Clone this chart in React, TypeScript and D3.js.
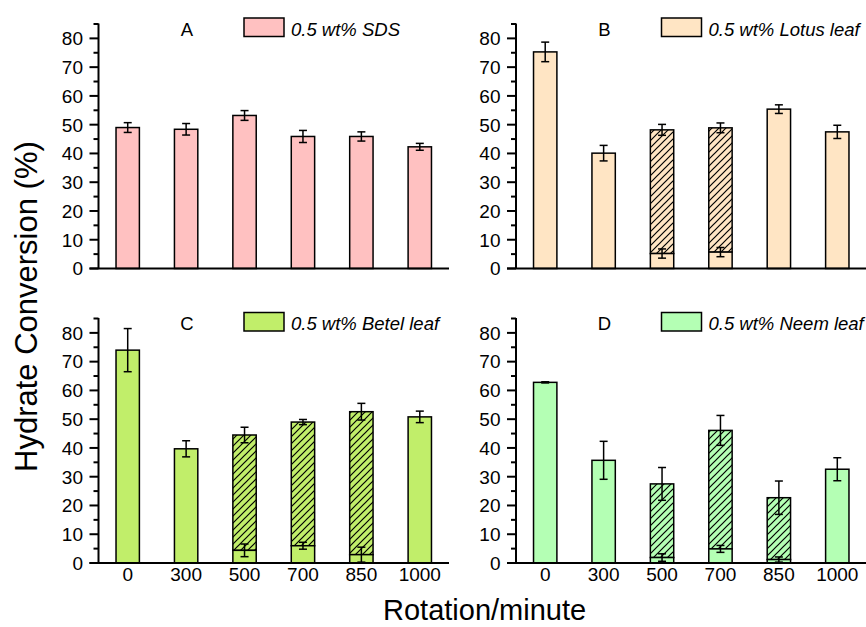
import React from 'react';
import * as d3 from 'd3';

// rotation speeds (x categories)
const rpm = ['0', '300', '500', '700', '850', '1000'];

// panel A - SDS
const sdsTotal = [49.0, 48.4, 53.2, 45.9, 45.9, 42.3];
const sdsErr = [1.7, 2.0, 1.7, 2.1, 1.6, 1.2];
const sdsLower = [null, null, null, null, null, null];
const sdsLowerErr = [null, null, null, null, null, null];

// panel B - Lotus leaf
const lotusTotal = [75.3, 40.1, 48.2, 48.9, 55.4, 47.5];
const lotusErr = [3.4, 2.7, 1.9, 1.7, 1.5, 2.3];
const lotusLower = [null, null, 5.2, 5.7, null, null];
const lotusLowerErr = [null, null, 1.6, 1.6, null, null];

// panel C - Betel leaf
const betelTotal = [74.0, 39.7, 44.5, 49.0, 52.6, 50.8];
const betelErr = [7.5, 2.8, 2.7, 0.9, 2.9, 2.0];
const betelLower = [null, null, 4.4, 6.0, 2.9, null];
const betelLowerErr = [null, null, 2.2, 1.2, 2.6, null];

// panel D - Neem leaf
const neemTotal = [62.8, 35.7, 27.5, 46.1, 22.7, 32.6];
const neemErr = [0.2, 6.6, 5.7, 5.2, 5.8, 4.0];
const neemLower = [null, null, 1.9, 4.9, 1.2, null];
const neemLowerErr = [null, null, 1.3, 1.2, 0.9, null];

const yTicks = [0, 10, 20, 30, 40, 50, 60, 70, 80];
const yMinor = [5, 15, 25, 35, 45, 55, 65, 75, 85];

const FONT = "'Liberation Sans', Arial, Helvetica, sans-serif";

type PanelProps = {
  id: string;
  letter: string;
  legend: string;
  color: string;
  total: number[];
  err: number[];
  lower: (number | null)[];
  lowerErr: (number | null)[];
  x0: number;
  top: number;
  bottom: number;
  showX: boolean;
};

function Panel(p: PanelProps) {
  const width = 350.5;
  const x = d3.scaleBand().domain(rpm).range([p.x0, p.x0 + width]).paddingInner(0.6).paddingOuter(0.3);
  const y = d3.scaleLinear().domain([0, 85]).range([p.bottom, p.top]);
  const bw = x.bandwidth();
  const cap = 4;

  const errBar = (cx: number, v: number, e: number, key: string) => (
    <g key={key} stroke="#000" strokeWidth={1.5}>
      <line x1={cx} x2={cx} y1={y(v + e)} y2={y(v - e)} />
      <line x1={cx - cap} x2={cx + cap} y1={y(v + e)} y2={y(v + e)} />
      <line x1={cx - cap} x2={cx + cap} y1={y(v - e)} y2={y(v - e)} />
    </g>
  );

  return (
    <g>
      <defs>
        <pattern id={'hatch' + p.id} patternUnits="userSpaceOnUse" width={7} height={7}>
          <rect width={7} height={7} fill={p.color} />
          <path d="M-1,1 l2,-2 M0,7 l7,-7 M6,8 l2,-2" stroke="#000" strokeWidth={1.2} />
        </pattern>
      </defs>
      {rpm.map((r, i) => {
        const bx = x(r) as number;
        const lo = p.lower[i];
        return (
          <g key={r}>
            {lo == null ? (
              <rect x={bx} y={y(p.total[i])} width={bw} height={y(0) - y(p.total[i])}
                fill={p.color} stroke="#000" strokeWidth={1.5} />
            ) : (
              <g>
                <rect x={bx} y={y(p.total[i])} width={bw} height={y(lo) - y(p.total[i])}
                  fill={`url(#hatch${p.id})`} stroke="#000" strokeWidth={1.5} />
                <rect x={bx} y={y(lo)} width={bw} height={y(0) - y(lo)}
                  fill={p.color} stroke="#000" strokeWidth={1.5} />
              </g>
            )}
          </g>
        );
      })}
      {rpm.map((r, i) => {
        const cx = (x(r) as number) + bw / 2;
        const lo = p.lower[i];
        const le = p.lowerErr[i];
        return (
          <g key={'e' + r}>
            {errBar(cx, p.total[i], p.err[i], 't')}
            {lo != null && le != null ? errBar(cx, lo, le, 'l') : null}
          </g>
        );
      })}
      {/* y axis */}
      <line x1={p.x0} x2={p.x0} y1={y(85) - 0.5} y2={y(0)} stroke="#000" strokeWidth={2} />
      {yTicks.map(t => (
        <g key={'yt' + t}>
          <line x1={p.x0 - 9} x2={p.x0} y1={y(t)} y2={y(t)} stroke="#000" strokeWidth={2} />
          <text x={p.x0 - 15.5} y={y(t)} dy="0.36em" textAnchor="end" fontSize={19} fontFamily={FONT}>{t}</text>
        </g>
      ))}
      {yMinor.map(t => (
        <line key={'ym' + t} x1={p.x0 - 5} x2={p.x0} y1={y(t)} y2={y(t)} stroke="#000" strokeWidth={2} />
      ))}
      {/* x axis */}
      <line x1={p.x0 - 9} x2={p.x0 + width} y1={y(0)} y2={y(0)} stroke="#000" strokeWidth={2} />
      {p.showX && rpm.map(r => (
        <text key={'xl' + r} x={(x(r) as number) + bw / 2} y={y(0) + 17.5} textAnchor="middle"
          fontSize={19} fontFamily={FONT}>{r}</text>
      ))}
      {/* panel letter and legend */}
      <text x={p.x0 + 88.5} y={p.top + 11.5} textAnchor="middle" fontSize={18.5} fontFamily={FONT}>{p.letter}</text>
      <rect x={p.x0 + 145.5} y={p.top - 6} width={40} height={18.5} fill={p.color} stroke="#000" strokeWidth={1.5} />
      <text x={p.x0 + 192.5} y={p.top + 11.5} fontSize={18.5} fontStyle="italic" fontFamily={FONT}>{p.legend}</text>
    </g>
  );
}

export default function App() {
  return (
    <svg width={866} height={627} style={{ position: 'absolute', left: 0, top: 0, background: '#fff' }}>
      <Panel id="A" letter="A" legend="0.5 wt% SDS" color="#FFC1C1" total={sdsTotal} err={sdsErr}
        lower={sdsLower} lowerErr={sdsLowerErr} x0={98.5} top={24} bottom={268.5} showX={false} />
      <Panel id="B" letter="B" legend="0.5 wt% Lotus leaf" color="#FFE5C4" total={lotusTotal} err={lotusErr}
        lower={lotusLower} lowerErr={lotusLowerErr} x0={516} top={24} bottom={268.5} showX={false} />
      <Panel id="C" letter="C" legend="0.5 wt% Betel leaf" color="#C1EE6A" total={betelTotal} err={betelErr}
        lower={betelLower} lowerErr={betelLowerErr} x0={98.5} top={318.5} bottom={563} showX={true} />
      <Panel id="D" letter="D" legend="0.5 wt% Neem leaf" color="#B4FFB4" total={neemTotal} err={neemErr}
        lower={neemLower} lowerErr={neemLowerErr} x0={516} top={318.5} bottom={563} showX={true} />
      <text transform="translate(37,472) rotate(-90)" fontSize={31} fontFamily={FONT}>
        Hydrate Conversion (%)
      </text>
      <text x={383} y={620} fontSize={29} fontFamily={FONT}>Rotation/minute</text>
    </svg>
  );
}
